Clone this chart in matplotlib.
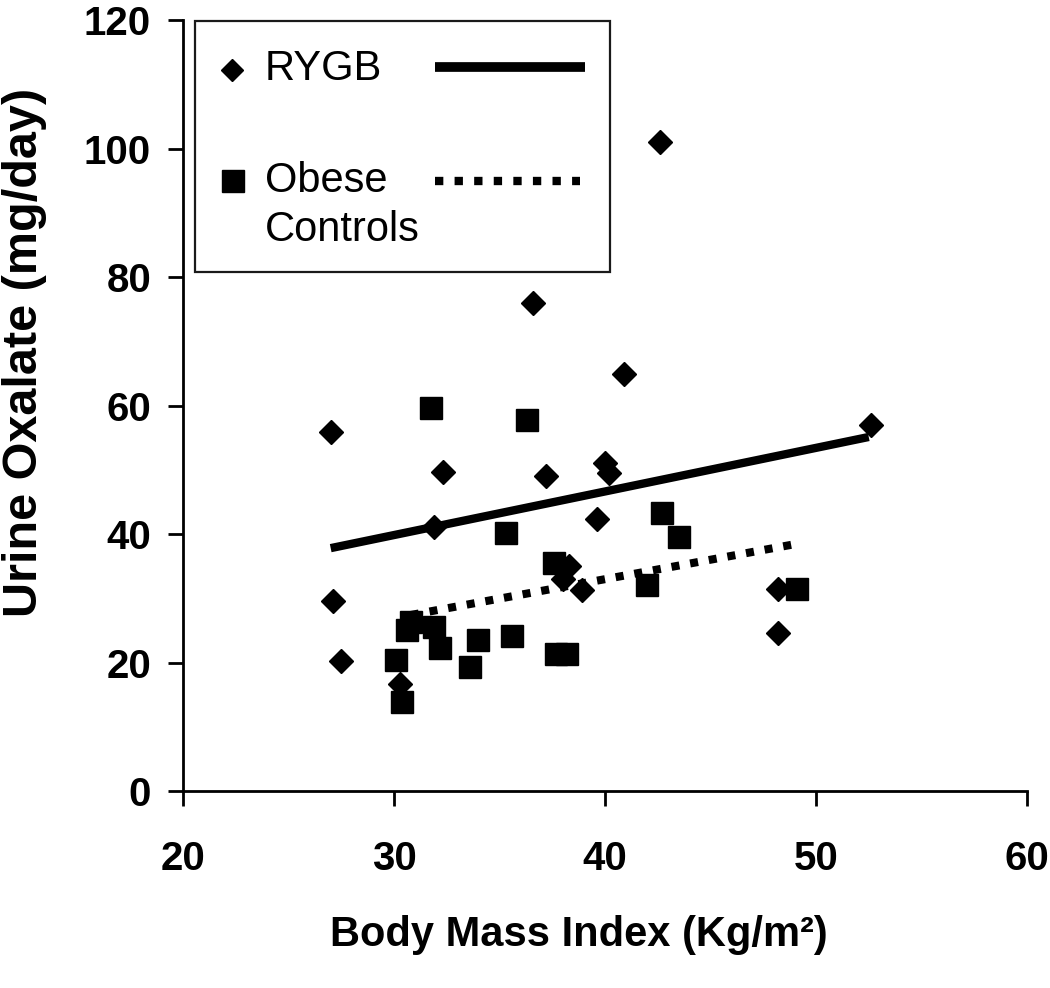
import matplotlib
matplotlib.use("Agg")
import matplotlib.pyplot as plt
from matplotlib.patches import Rectangle
from matplotlib.lines import Line2D

# ---- data ----
rygb_bmi = [27.0, 27.1, 27.5, 30.3, 31.9, 32.3, 36.6, 37.2, 38.0, 38.3,
            38.9, 39.6, 40.0, 40.2, 40.9, 42.6, 48.2, 48.2, 52.6]
rygb_ox = [55.9, 29.5, 20.3, 16.7, 41.1, 49.7, 76.0, 49.0, 33.0, 35.0,
           31.3, 42.3, 51.0, 49.5, 64.9, 101.0, 31.4, 24.6, 57.0]

obese_bmi = [30.1, 30.4, 30.6, 30.8, 31.75, 31.9, 32.2, 33.6, 34.0, 35.3,
             35.6, 36.3, 37.6, 37.7, 38.2, 42.0, 42.7, 43.5, 49.1]
obese_ox = [20.4, 13.9, 25.1, 26.3, 59.6, 25.5, 22.2, 19.3, 23.5, 40.2,
            24.1, 57.7, 35.5, 21.4, 21.4, 32.1, 43.3, 39.5, 31.4]

# linear trend lines (end points)
rygb_fit_x = [27.0, 52.5]
rygb_fit_y = [37.8, 55.1]
obese_fit_x = [30.8, 49.3]
obese_fit_y = [27.4, 38.6]

x_ticks = [20, 30, 40, 50, 60]
y_ticks = [0, 20, 40, 60, 80, 100, 120]

series_labels = ["RYGB", "Obese", "Controls"]
x_label = "Body Mass Index (Kg/m\u00b2)"
y_label = "Urine Oxalate (mg/day)"

# ---- figure ----
plt.rcParams['font.family'] = ['Liberation Sans', 'DejaVu Sans']
fig = plt.figure(figsize=(10.5, 9.88), dpi=100)
ax = fig.add_axes([183 / 1050, 1 - 791 / 988, 844 / 1050, 771 / 988])

ax.plot(rygb_bmi, rygb_ox, linestyle='none', marker='D', markersize=12,
        color='black', zorder=3, clip_on=False)
ax.plot(obese_bmi, obese_ox, linestyle='none', marker='s', markersize=15.5,
        color='black', zorder=3, clip_on=False)

ax.plot(rygb_fit_x, rygb_fit_y, color='black', linewidth=6.0,
        solid_capstyle='butt', zorder=4)
ax.plot(obese_fit_x, obese_fit_y, color='black', linewidth=5.8,
        linestyle=(0, (1.0, 1.35)), dash_capstyle='butt', zorder=4)

ax.set_xlim(20, 60)
ax.set_ylim(0, 120)
ax.set_xticks(x_ticks)
ax.set_yticks(y_ticks)
ax.set_xticklabels([str(v) for v in x_ticks])
ax.set_yticklabels([str(v) for v in y_ticks])

for s in ['top', 'right']:
    ax.spines[s].set_visible(False)
for s in ['left', 'bottom']:
    ax.spines[s].set_linewidth(2.0)
    ax.spines[s].set_color('black')

ax.tick_params(axis='both', direction='out', length=11, width=2.0,
               color='black', labelsize=29)
ax.tick_params(axis='x', pad=24)
ax.tick_params(axis='y', pad=12)
for lab in ax.get_xticklabels() + ax.get_yticklabels():
    lab.set_fontweight('bold')

ax.set_xlabel(x_label, fontsize=30, fontweight='bold')
ax.xaxis.set_label_coords(0.469, -0.161)
ax.set_ylabel(y_label, fontsize=35, fontweight='bold')
ax.yaxis.set_label_coords(-0.161, 0.569)

# ---- legend (Excel style: markers with names, trend lines beside them) ----
def fx(px):
    return (px - 183) / 844


def fy(py):
    return (791 - py) / 771


tr = ax.transAxes
frame = Rectangle((fx(195), fy(272)), fx(610) - fx(195), fy(21) - fy(272),
                  transform=tr, facecolor='white', edgecolor='#1a1a1a',
                  linewidth=1.6, zorder=5, clip_on=False)
ax.add_patch(frame)

leg_artists = [
    Line2D([fx(232)], [fy(70)], marker='D', markersize=11, color='black',
           linestyle='none', transform=tr),
    Line2D([fx(233)], [fy(181)], marker='s', markersize=16, color='black',
           linestyle='none', transform=tr),
    Line2D([fx(435), fx(585)], [fy(67), fy(67)], color='black',
           linewidth=7.0, solid_capstyle='butt', transform=tr),
    Line2D([fx(435), fx(580)], [fy(181), fy(181)], color='black',
           linewidth=6.0, linestyle=(0, (1.0, 1.35)), dash_capstyle='butt',
           transform=tr),
]
for art in leg_artists:
    art.set_zorder(6)
    art.set_clip_on(False)
    ax.add_artist(art)

ax.text(fx(265), fy(80), series_labels[0], transform=tr, fontsize=30,
        va='baseline', ha='left', zorder=6)
ax.text(fx(265), fy(192), series_labels[1], transform=tr, fontsize=30,
        va='baseline', ha='left', zorder=6)
ax.text(fx(265), fy(241), series_labels[2], transform=tr, fontsize=30,
        va='baseline', ha='left', zorder=6)

fig.savefig("out.png", dpi=100)
